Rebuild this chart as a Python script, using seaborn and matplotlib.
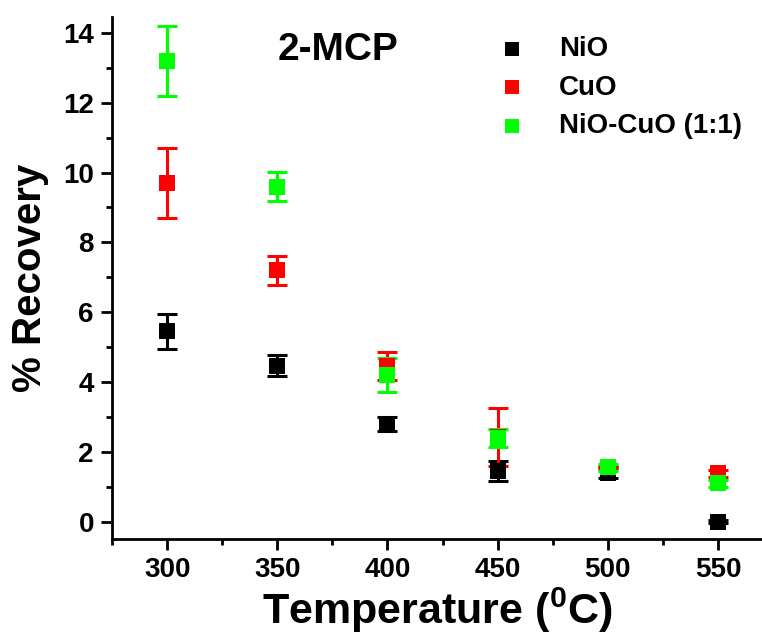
import numpy as np
import pandas as pd
import matplotlib
matplotlib.use("Agg")
import matplotlib.pyplot as plt
import seaborn as sns
from matplotlib.ticker import MultipleLocator

temperature = [300, 350, 400, 450, 500, 550]
series_names = ["NiO", "CuO", "NiO-CuO (1:1)"]
nio = [5.45, 4.46, 2.80, 1.45, 1.40, 0.00]
nio_err = [0.50, 0.30, 0.20, 0.28, 0.15, 0.05]
cuo = [9.70, 7.20, 4.45, 2.42, 1.55, 1.38]
cuo_err = [1.00, 0.42, 0.40, 0.82, 0.05, 0.10]
mix = [13.20, 9.60, 4.20, 2.40, 1.55, 1.10]
mix_err = [1.00, 0.42, 0.50, 0.25, 0.10, 0.10]
colors = ["#000000", "#ff0000", "#00ff00"]

sns.set_style("ticks")
plt.rcParams["font.family"] = ["Liberation Sans", "DejaVu Sans"]
plt.rcParams["font.weight"] = "bold"
plt.rcParams["text.color"] = "black"
plt.rcParams["axes.labelcolor"] = "black"
plt.rcParams["axes.edgecolor"] = "black"
plt.rcParams["xtick.color"] = "black"
plt.rcParams["ytick.color"] = "black"
plt.rcParams["mathtext.fontset"] = "custom"
plt.rcParams["mathtext.rm"] = "Liberation Sans:bold"
plt.rcParams["mathtext.bf"] = "Liberation Sans:bold"
plt.rcParams["mathtext.default"] = "rm"

rows = []
for name, vals, errs in zip(series_names, [nio, cuo, mix], [nio_err, cuo_err, mix_err]):
    for t, v, e in zip(temperature, vals, errs):
        rows.append({"Temperature": t, "Recovery": v, "err": e, "Sample": name})
df = pd.DataFrame(rows)

fig = plt.figure(figsize=(7.62, 6.39), dpi=100)
ax = fig.add_axes([0.147, 0.1565, 0.853, 0.8165])

for name, col in zip(series_names, colors):
    sub = df[df["Sample"] == name]
    ax.errorbar(sub["Temperature"], sub["Recovery"], yerr=sub["err"], fmt="none",
                ecolor=col, elinewidth=2.2, capsize=7, capthick=2.2, zorder=2)
    sns.scatterplot(data=sub, x="Temperature", y="Recovery", color=col, marker="s",
                    s=120, edgecolor=col, linewidth=0, ax=ax, label=name, zorder=3)

ax.set_xlim(275, 570)
ax.set_ylim(-0.5, 14.45)
ax.xaxis.set_major_locator(MultipleLocator(50))
ax.xaxis.set_minor_locator(MultipleLocator(25))
ax.yaxis.set_major_locator(MultipleLocator(2))
ax.yaxis.set_minor_locator(MultipleLocator(1))
ax.tick_params(which="major", direction="out", length=8, width=2, labelsize=20, pad=5,
               colors="black")
ax.tick_params(which="minor", direction="out", length=4, width=2, colors="black")
for lab in ax.get_xticklabels() + ax.get_yticklabels():
    lab.set_fontweight("bold")
for s in ["top", "right"]:
    ax.spines[s].set_visible(False)
for s in ["left", "bottom"]:
    ax.spines[s].set_linewidth(2)
    ax.spines[s].set_color("black")

ax.set_xlabel("Temperature ($^{0}$C)", fontsize=31, fontweight="bold", labelpad=2,
              color="black")
ax.set_ylabel("% Recovery", fontsize=29, fontweight="bold", labelpad=10, color="black")
ax.text(0.348, 0.937, "2-MCP", transform=ax.transAxes, ha="center", va="center",
        fontsize=28, fontweight="bold", color="black")

leg = ax.legend(loc="upper left", bbox_to_anchor=(0.56, 0.985), frameon=False,
                prop={"size": 20, "weight": "bold"}, markerscale=0.9,
                handlelength=1.8, handletextpad=0.8, labelspacing=0.45,
                borderpad=0.4, borderaxespad=0.0)
for t in leg.get_texts():
    t.set_color("black")

fig.savefig("out.png", dpi=100)
